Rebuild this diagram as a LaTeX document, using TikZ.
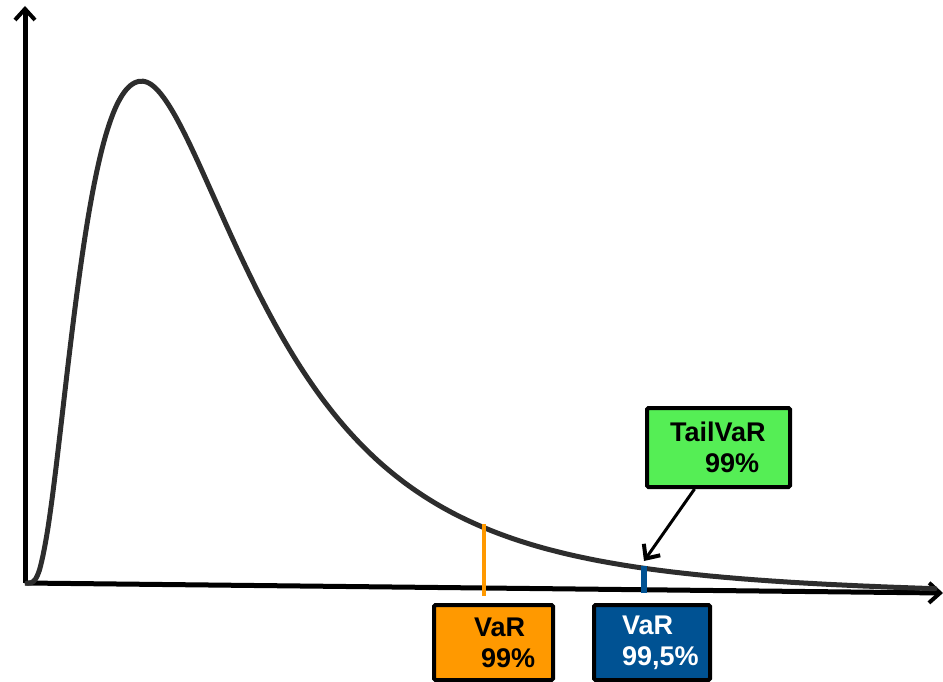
\documentclass[tikz,border=0pt]{standalone}
\usepackage{fontspec}
\setmainfont{Liberation Sans}
\usetikzlibrary{positioning,calc,arrows.meta}
\definecolor{varorange}{RGB}{255,153,0}
\definecolor{varblue}{RGB}{0,82,147}
\definecolor{tailgreen}{RGB}{85,238,85}
\definecolor{curvegray}{RGB}{45,45,45}
\tikzset{>={Straight Barb[length=11pt,width=20pt,line width=4pt]}}
\tikzset{axis/.style={line width=5pt,black},
  density/.style={line width=5pt,curvegray,line cap=round},
  varbox/.style={draw=black,line width=4pt,rounded corners=1.5pt,
    anchor=north west,align=left,inner sep=0pt,
    font=\bfseries\fontsize{27}{31}\selectfont},
  declare function={lnu(\t)=ln((\t-25)/117);
    dens(\t)=503*exp(-lnu(\t)*lnu(\t)/((\t<142)?1.2:0.881));
    base(\t)=583+10*(\t-25)/917;}}

\begin{document}
\begin{tikzpicture}[x=1pt,y=-1pt]
\useasboundingbox (0,0) rectangle (943,682);
% Draw axes
\coordinate (O) at (25,583);
\coordinate (Y) at (25,6);
\coordinate (X) at (943,593);
\draw[axis,->] (O) -- (Y);
\draw[axis,->] (O) -- (X);

% Draw density curve
\draw[density] plot[domain=27:935,samples=220,smooth]
  (\x,{base(\x)-dens(\x)});

% Draw VaR marks
\coordinate (V1) at (484,524);
\coordinate (V1b) at (484,596);
\coordinate (V2) at (644,566);
\coordinate (V2b) at (644,593);
\draw[line width=4.5pt,varorange] (V1) -- (V1b);
\draw[line width=6pt,varblue] (V2) -- (V2b);

% Draw label boxes
\node[varbox,fill=varorange,text width=39pt,
  minimum width=119pt,minimum height=75pt] (var99) at (432,603)
  {VaR\\\hspace*{7pt}99\%};
\node[varbox,fill=varblue,text=white,text width=60pt,
  minimum width=116pt,minimum height=75pt] (var995) at (592,603)
  {VaR\\99,5\%};
\node[varbox,fill=tailgreen,text width=97pt,
  minimum width=143pt,minimum height=79pt] (tvar99) at (645,406)
  {TailVaR\\\hspace*{35pt}99\%};

% Draw arrow to the tail
\coordinate (T) at (644,561);
\draw[line width=3pt,->] (tvar99.240) -- (T);
\end{tikzpicture}
\end{document}
